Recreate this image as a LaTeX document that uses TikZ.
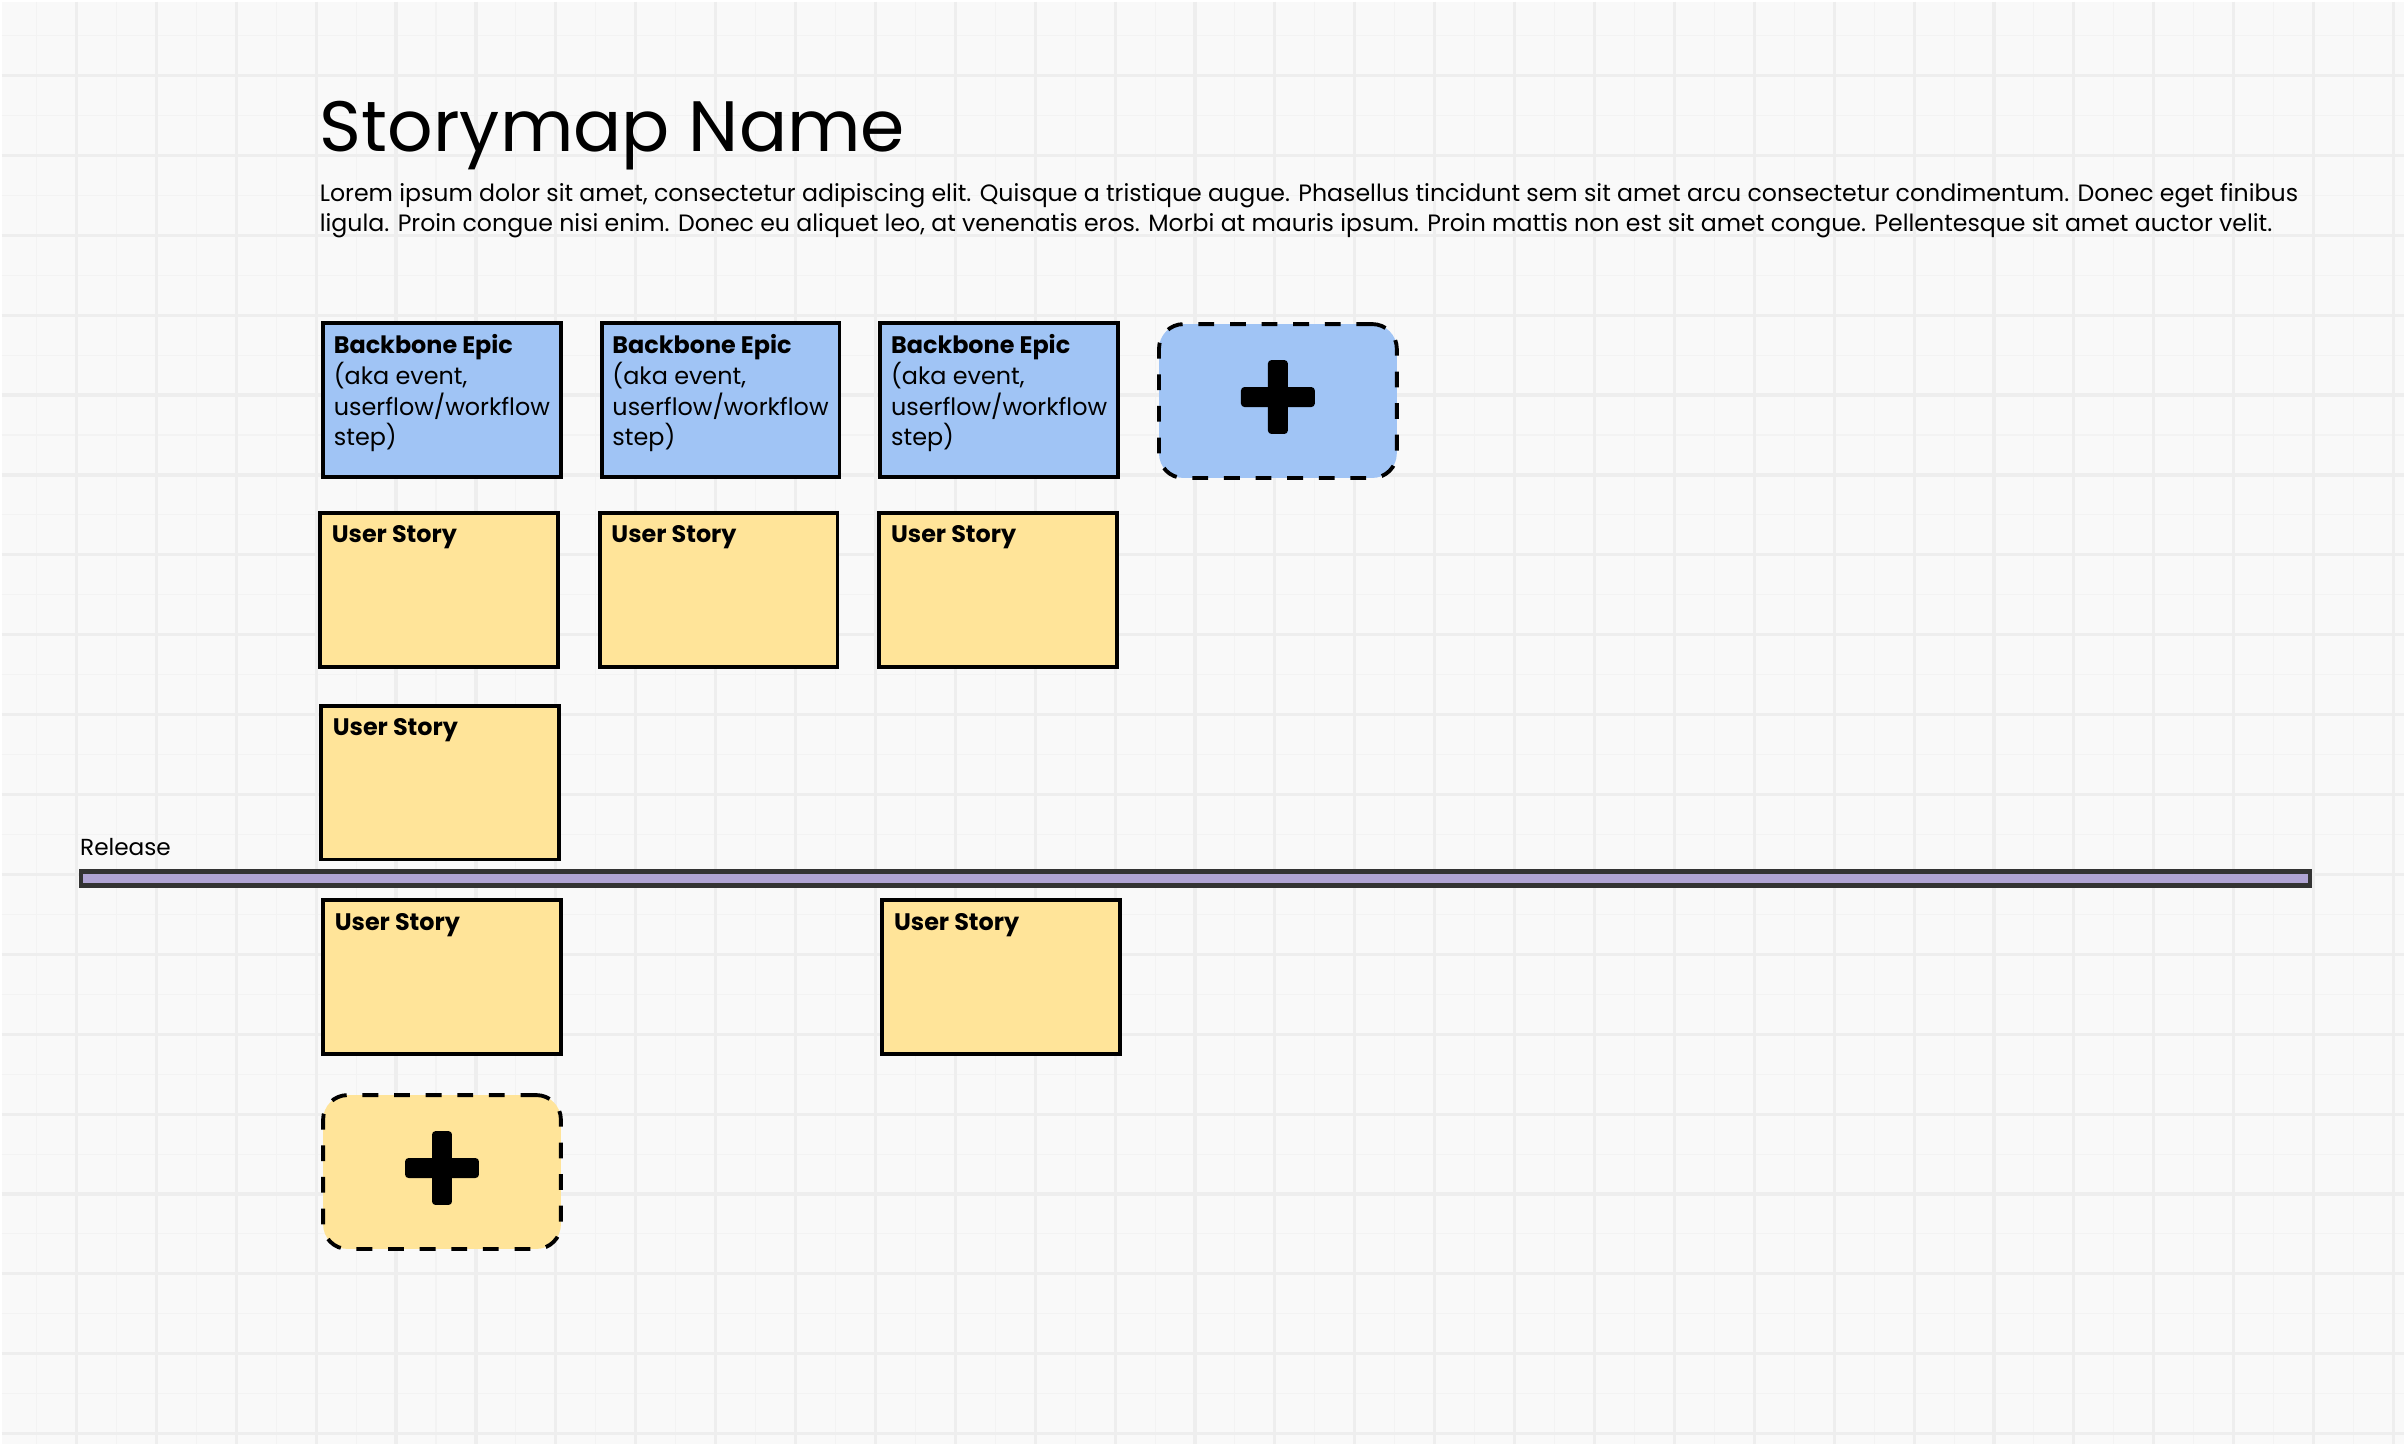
\documentclass[tikz,border=0pt]{standalone}
\usepackage{fontspec}
\setmainfont{Poppins}
\usetikzlibrary{positioning,calc}
\definecolor{cPaper}{HTML}{F9F9F9}
\definecolor{cGridMaj}{HTML}{EEEEEE}
\definecolor{cGridMin}{HTML}{F3F3F3}
\definecolor{cEpic}{HTML}{A0C4F5}
\definecolor{cStory}{HTML}{FFE499}
\definecolor{cRelease}{HTML}{B0A4D4}
\definecolor{cRim}{HTML}{333333}

\begin{document}
\begin{tikzpicture}[x=0.01cm,y=-0.01cm,
  gridmin/.style={cGridMin,line width=0.3pt},
  gridmaj/.style={cGridMaj,line width=0.9pt},
  card/.style={draw=black,line width=1.1pt,anchor=north west,inner sep=0pt,
               minimum width=2.38cm,minimum height=1.54cm},
  epic/.style={card,fill=cEpic},
  story/.style={card,fill=cStory},
  addcard/.style={card,dash pattern=on 4.5pt off 4.5pt,rounded corners=7pt},
  cardtxt/.style={anchor=base west,align=left,inner sep=0pt,
                  font=\fontsize{6.8pt}{8.8pt}\selectfont},
  plusbar/.style={fill=black,rounded corners=1pt}]

% paper and grid
\fill[cPaper] (0,0) rectangle (2406,1444);
\foreach \gx in {35,115,...,2406} \draw[gridmin] (\gx,0) -- (\gx,1444);
\foreach \gy in {34,114,...,1444} \draw[gridmin] (0,\gy) -- (2406,\gy);
\foreach \gx in {75,155,...,2406} \draw[gridmaj] (\gx,0) -- (\gx,1444);
\foreach \gy in {74,154,...,1444} \draw[gridmaj] (0,\gy) -- (2406,\gy);

% heading (base of a multi-line node is its last line)
\node[anchor=base west,inner sep=0pt,font=\fontsize{20.3pt}{25pt}\selectfont]
  (title) at (318,150) {Storymap Name};
\node[anchor=base west,align=left,inner sep=0pt,font=\fontsize{6.73pt}{8.5pt}\selectfont]
  (blurb) at (318,230) {Lorem ipsum dolor sit amet, consectetur adipiscing elit. Quisque a tristique augue. Phasellus tincidunt sem sit amet arcu consectetur condimentum. Donec eget finibus\\
ligula. Proin congue nisi enim. Donec eu aliquet leo, at venenatis eros. Morbi at mauris ipsum. Proin mattis non est sit amet congue. Pellentesque sit amet auctor velit.};

% backbone
\node[epic] (e1) at (320,320) {};
\node[epic] (e2) at (599,320) {};
\node[epic] (e3) at (878,320) {};
\node[addcard,fill=cEpic] (addE) at (1157,321) {};
\foreach \e in {e1,e2,e3}
  \node[cardtxt] at ($(\e.north west)+(12,125)$) {\textbf{Backbone Epic}\\(aka event,\\userflow/workflow\\step)};

% stories
\node[story] (s11) at (317,510) {};
\node[story] (s12) at (597,510) {};
\node[story] (s13) at (877,510) {};
\node[story] (s21) at (318,703) {};
\node[story] (s31) at (320,898) {};
\node[story] (s33) at (880,898) {};
\node[addcard,fill=cStory] (addS) at (320,1093) {};
\foreach \s in {s11,s12,s13,s21,s31,s33}
  \node[cardtxt] at ($(\s.north west)+(13,32)$) {\textbf{User Story}};

% plus marks
\foreach \c in {addE,addS}{
  \fill[plusbar] ($(\c)+(-10,-41)$) rectangle ($(\c)+(10,33)$);
  \fill[plusbar] ($(\c)+(-37,-14)$) rectangle ($(\c)+(37,6)$);
}

% release
\coordinate (relL) at (78,878);
\coordinate (relR) at (2313,878);
\draw[cRim,line width=5.4pt] (relL) -- (relR);
\draw[cRelease,line width=2.6pt] ($(relL)+(4,0)$) -- ($(relR)+(-4,0)$);
\node[anchor=base west,inner sep=0pt,font=\fontsize{6.6pt}{7.5pt}\selectfont]
  (rel) at (78,855) {Release};
\end{tikzpicture}
\end{document}
